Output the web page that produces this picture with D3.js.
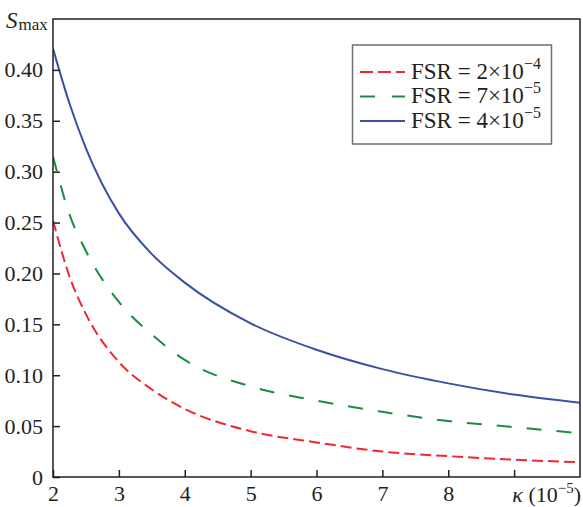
<!DOCTYPE html>
<html>
<head>
<meta charset="utf-8">
<script src="https://cdn.jsdelivr.net/npm/d3@7"></script>
<style>
  body { margin: 0; background: #fff; }
  text { font-family: "Liberation Serif", "Times New Roman", serif; fill: #231f20; }
</style>
</head>
<body>
<div id="chart"></div>
<script>
// values
var kappa = [2, 2.25, 2.5, 3, 3.5, 4, 5, 6, 7, 8, 9, 10];
var fsr_2e4 = [0.252, 0.197, 0.160, 0.113, 0.086, 0.067, 0.045, 0.034, 0.025, 0.0205, 0.017, 0.0145];
var fsr_7e5 = [0.315, 0.258, 0.222, 0.172, 0.140, 0.115, 0.089, 0.075, 0.064, 0.055, 0.049, 0.043];
var fsr_4e5 = [0.421, 0.367, 0.323, 0.259, 0.219, 0.191, 0.151, 0.125, 0.106, 0.092, 0.081, 0.073];
var x_ticks = [2, 3, 4, 5, 6, 7, 8, 9];
var x_labels = ["2", "3", "4", "5", "6", "7", "8", ""];
var y_ticks = [0, 0.05, 0.10, 0.15, 0.20, 0.25, 0.30, 0.35, 0.40];
var series_names = ["2", "7", "4"];
var series_exps = ["\u22124", "\u22125", "\u22125"];

var series = [
    { name: series_names[0], exp: series_exps[0], values: fsr_2e4, color: "#ec2a2e", dash: "11,5", legend_dash: "13,5" },
    { name: series_names[1], exp: series_exps[1], values: fsr_7e5, color: "#1b8b43", dash: "15,15", legend_dash: "15,17" },
    { name: series_names[2], exp: series_exps[2], values: fsr_4e5, color: "#3a50a6", dash: null, legend_dash: null }
];

var W = 583, H = 507;
var m = { left: 53, top: 19, right: 580, bottom: 477 };

var svg = d3.select("#chart").append("svg")
    .attr("width", W)
    .attr("height", H);

var x = d3.scaleLinear().domain([2, 10]).range([m.left, m.right]);
var y = d3.scaleLinear().domain([0, 0.45]).range([m.bottom, m.top]);

// curves, clipped to the frame
svg.append("clipPath").attr("id", "clip")
    .append("rect")
    .attr("x", m.left).attr("y", m.top)
    .attr("width", m.right - m.left).attr("height", m.bottom - m.top);

var line = d3.line()
    .x(function(d, i) { return x(kappa[i]); })
    .y(function(d) { return y(d); })
    .curve(d3.curveMonotoneX);

svg.append("g").attr("clip-path", "url(#clip)")
    .selectAll("path")
    .data(series)
    .enter().append("path")
    .attr("d", function(d) { return line(d.values); })
    .attr("fill", "none")
    .attr("stroke", function(d) { return d.color; })
    .attr("stroke-width", 2)
    .attr("stroke-dasharray", function(d) { return d.dash; });

// frame
svg.append("rect")
    .attr("x", m.left).attr("y", m.top)
    .attr("width", m.right - m.left).attr("height", m.bottom - m.top)
    .attr("fill", "none")
    .attr("stroke", "#231f20")
    .attr("stroke-width", 1.5);

// axes with inward ticks
var xAxis = d3.axisBottom(x)
    .tickValues(x_ticks)
    .tickSize(-7)
    .tickPadding(8)
    .tickFormat(function(d, i) { return x_labels[i]; });

var yAxis = d3.axisLeft(y)
    .tickValues(y_ticks)
    .tickSize(-7)
    .tickPadding(10)
    .tickFormat(function(d) { return d === 0 ? "0" : d3.format(".2f")(d); });

var gx = svg.append("g").attr("transform", "translate(0," + m.bottom + ")").call(xAxis);
var gy = svg.append("g").attr("transform", "translate(" + m.left + ",0)").call(yAxis);

[gx, gy].forEach(function(g) {
    g.select(".domain").remove();
    g.selectAll(".tick line").attr("stroke", "#231f20").attr("stroke-width", 1.5);
    g.selectAll(".tick text")
        .attr("fill", "#231f20")
        .style("font-family", "Liberation Serif, serif")
        .style("font-size", "22px");
});

// y axis title: S_max
var ylab = svg.append("text")
    .attr("x", 6)
    .attr("y", 28)
    .style("font-size", "23px");
ylab.append("tspan").style("font-style", "italic").text("S");
ylab.append("tspan").attr("dx", 1).attr("dy", 2).style("font-size", "17px").text("max");

// x axis title: kappa (10^-5)
var xlab = svg.append("text")
    .attr("x", 581)
    .attr("y", 502)
    .attr("text-anchor", "end")
    .style("font-size", "22px");
xlab.append("tspan").style("font-style", "italic").text("\u03ba");
xlab.append("tspan").text(" (10");
xlab.append("tspan").attr("dy", -9).style("font-size", "15px").text("\u22125");
xlab.append("tspan").attr("dy", 9).text(")");

// legend
var legend = svg.append("g");
legend.append("rect")
    .attr("x", 352.5).attr("y", 45)
    .attr("width", 199).attr("height", 99)
    .attr("fill", "#fff")
    .attr("stroke", "#6d6e70")
    .attr("stroke-width", 1.5);

var rows = legend.selectAll("g.row")
    .data(series)
    .enter().append("g")
    .attr("class", "row")
    .attr("transform", function(d, i) { return "translate(0," + [72, 96.5, 121][i] + ")"; });

rows.append("line")
    .attr("x1", 360).attr("x2", 405)
    .attr("y1", 0).attr("y2", 0)
    .attr("stroke", function(d) { return d.color; })
    .attr("stroke-width", 2)
    .attr("stroke-dasharray", function(d) { return d.legend_dash; });

var lt = rows.append("text")
    .attr("x", 411)
    .attr("y", 6.5)
    .style("font-size", "23px");
lt.append("tspan").text(function(d) { return "FSR = " + d.name + "\u00d710"; });
lt.append("tspan").attr("dy", -10).style("font-size", "16px").text(function(d) { return d.exp; });
</script>
</body>
</html>
